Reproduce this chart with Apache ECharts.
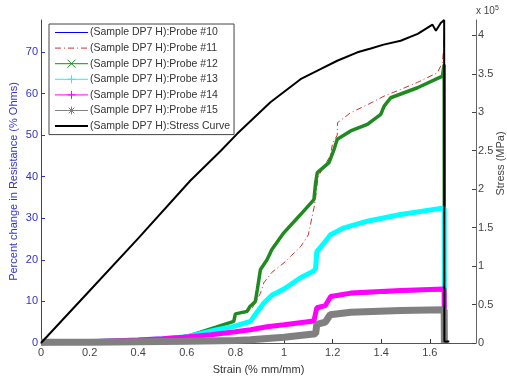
<!DOCTYPE html>
<html>
<head>
<meta charset="utf-8">
<script src="https://cdn.jsdelivr.net/npm/echarts@6/dist/echarts.min.js"></script>
<style>
  html, body { margin: 0; padding: 0; background: #fff; }
  #main { width: 507px; height: 380px; }
</style>
</head>
<body>
<div id="main"></div>
<script>
// values; strain in % mm/mm
const p10Strain = [0, 0.2, 0.4, 0.5, 0.587, 0.7, 0.8, 0.862, 0.93, 1.0, 1.123, 1.13, 1.135, 1.17, 1.18, 1.192, 1.274, 1.48, 1.659, 1.66];
const p10Value  = [0, 0.2, 0.5, 0.8, 1.2, 1.8, 2.5, 3.0, 3.7, 4.2, 5.0, 5.3, 8.0, 8.6, 9.6, 10.8, 11.6, 12.2, 12.6, 0];

const p11Strain = [0, 0.2, 0.4, 0.5, 0.6, 0.656, 0.72, 0.793, 0.8, 0.848, 0.87, 0.89, 0.903, 0.917, 0.95, 1.0, 1.03, 1.07, 1.1, 1.116, 1.125, 1.13, 1.14, 1.17, 1.19, 1.2, 1.219, 1.22, 1.274, 1.343, 1.412, 1.48, 1.549, 1.631, 1.652, 1.657, 1.659, 1.66];
const p11Value  = [0, 0.3, 0.7, 1.0, 1.6, 2.6, 3.8, 5.2, 6.8, 7.4, 8.5, 10.5, 12, 14.5, 17, 19.3, 21, 23.3, 26, 30.5, 33, 35, 40, 43, 45, 48, 50, 53, 55.4, 57.3, 59.4, 61, 62.7, 65, 67.5, 71, 73.9, 0];

const p12Strain = [0, 0.2, 0.4, 0.5, 0.6, 0.656, 0.72, 0.793, 0.8, 0.848, 0.86, 0.882, 0.89, 0.903, 0.93, 0.95, 0.999, 1.068, 1.123, 1.13, 1.137, 1.185, 1.206, 1.219, 1.274, 1.343, 1.398, 1.412, 1.439, 1.549, 1.652, 1.659, 1.66];
const p12Value  = [0, 0.3, 0.7, 1.0, 1.6, 2.6, 3.8, 5.2, 7.0, 7.6, 8.8, 10, 12.8, 17.7, 20, 22.5, 26.5, 30.9, 34.5, 38.5, 41, 43.4, 46.6, 49, 51, 52.6, 55, 57, 59, 61.4, 64.2, 67, 0];

const p13Strain = [0, 0.2, 0.4, 0.5, 0.6, 0.724, 0.793, 0.862, 0.89, 0.917, 0.95, 1.0, 1.068, 1.123, 1.13, 1.135, 1.15, 1.178, 1.19, 1.247, 1.343, 1.48, 1.659, 1.66];
const p13Value  = [0, 0.3, 0.7, 1.0, 1.5, 3.2, 4.0, 5.2, 7.5, 9.6, 11.5, 13, 15.7, 17.3, 18, 22, 23, 25, 26, 27.7, 29.3, 30.9, 32.5, 0];

const p14Strain = [0, 0.2, 0.4, 0.5, 0.587, 0.7, 0.8, 0.862, 0.93, 1.0, 1.123, 1.13, 1.135, 1.17, 1.18, 1.192, 1.274, 1.48, 1.659, 1.66];
const p14Value  = [0, 0.3, 0.7, 1.0, 1.4, 2.0, 2.7, 3.2, 3.9, 4.4, 5.3, 5.6, 8.5, 9.0, 10, 11.2, 12, 12.6, 13, 0];

const p15Strain = [0, 0.2, 0.4, 0.6, 0.8, 0.862, 1.0, 1.13, 1.135, 1.17, 1.19, 1.274, 1.48, 1.659, 1.66];
const p15Value  = [0.2, 0.2, 0.3, 0.4, 0.6, 0.8, 1.4, 2.2, 4.5, 5.0, 6.8, 7.4, 7.8, 8.0, 0];

// stress in units of 10^5
const stressStrain = [0, 0.2, 0.4, 0.614, 0.74, 0.807, 0.944, 1.068, 1.15, 1.219, 1.302, 1.357, 1.41, 1.48, 1.55, 1.611, 1.625, 1.645, 1.659, 1.66, 1.665, 1.68];
const stressE5     = [0, 0.68, 1.36, 2.11, 2.5, 2.72, 3.13, 3.43, 3.56, 3.67, 3.78, 3.83, 3.88, 3.93, 4.02, 4.14, 4.06, 4.16, 4.2, 0.02, 0.04, 0.02];

const seriesNames = [
    '(Sample DP7 H):Probe #10',
    '(Sample DP7 H):Probe #11',
    '(Sample DP7 H):Probe #12',
    '(Sample DP7 H):Probe #13',
    '(Sample DP7 H):Probe #14',
    '(Sample DP7 H):Probe #15',
    '(Sample DP7 H):Stress Curve'
];
const xTicks = [0, 0.2, 0.4, 0.6, 0.8, 1, 1.2, 1.4, 1.6];
const noMarker = [true, true, false, false, false, false, true];

const font = 'Liberation Sans, Arial, sans-serif';
const pairs = (xs, ys) => xs.map((x, i) => [x, ys[i]]);

const xMark = 'path://M0,0L10,10M10,0L0,10';
const plusMark = 'path://M5,0L5,10M0,5L10,5';
const starMark = 'path://M5,0L5,10M0,5L10,5M1.5,1.5L8.5,8.5M8.5,1.5L1.5,8.5';

let probe = (name, xs, ys, color, width, mark, dash) => ({
    name: name,
    type: 'line',
    yAxisIndex: 0,
    data: pairs(xs, ys),
    symbol: mark || 'none',
    symbolSize: 7,
    showSymbol: false,
    animation: false,
    lineStyle: {color: color, width: width, type: dash || 'solid'},
    itemStyle: {color: color, borderColor: color, borderWidth: 1}
});

let chart = echarts.init(document.getElementById('main'), null, {renderer: 'canvas'});
chart.setOption({
    animation: false,
    textStyle: {fontFamily: font},
    grid: {left: 41, right: 31, top: 20, bottom: 37, outerBoundsMode: 'none'},
    legend: {
        orient: 'vertical',
        left: 49,
        top: 24,
        itemWidth: 33,
        itemHeight: 10,
        itemGap: 4.6,
        padding: [3, 4, 3, 5],
        borderColor: '#444',
        borderWidth: 1,
        backgroundColor: '#fff',
        textStyle: {fontSize: 10.5, color: '#333', fontFamily: font, padding: [0, 0, 0, -3]},
        data: seriesNames.map((n, i) => ({
            name: n,
            lineStyle: {width: i === 6 ? 2 : 1},
            itemStyle: noMarker[i] ? {opacity: 0} : {borderWidth: 1}
        }))
    },
    xAxis: {
        type: 'value',
        min: 0,
        max: 1.79,
        interval: 0.2,
        name: 'Strain (% mm/mm)',
        nameLocation: 'middle',
        nameGap: 21,
        nameMoveOverlap: false,
        nameTextStyle: {fontSize: 11, color: '#333'},
        splitLine: {show: false},
        axisLine: {lineStyle: {color: '#555'}},
        axisTick: {inside: true, length: 4, lineStyle: {color: '#333'}},
        axisLabel: {
            fontSize: 11, color: '#444', margin: 4, showMaxLabel: false,
            formatter: v => xTicks.indexOf(Math.round(v * 10) / 10) >= 0 ? String(Math.round(v * 10) / 10) : ''
        }
    },
    yAxis: [
        {
            type: 'value',
            min: 0,
            max: 77.7,
            interval: 10,
            position: 'left',
            name: 'Percent change in Resistance (% Ohms)',
            nameLocation: 'middle',
            nameGap: 22,
            nameMoveOverlap: false,
            nameTextStyle: {fontSize: 11, color: '#3333cc'},
            splitLine: {show: false},
            axisLine: {show: true, lineStyle: {color: '#3333cc'}},
            axisTick: {inside: true, length: 4, lineStyle: {color: '#3333cc'}},
            axisLabel: {fontSize: 11, color: '#3333bb', margin: 3, showMaxLabel: false}
        },
        {
            type: 'value',
            min: 0,
            max: 4.2,
            interval: 0.5,
            position: 'right',
            name: 'Stress (MPa)',
            nameLocation: 'middle',
            nameRotate: 90,
            nameGap: 19,
            nameMoveOverlap: false,
            nameTextStyle: {fontSize: 11, color: '#444', padding: [0, 0, 0, 36]},
            splitLine: {show: false},
            axisLine: {show: true, lineStyle: {color: '#666'}},
            axisTick: {inside: true, length: 4, lineStyle: {color: '#444'}},
            axisLabel: {fontSize: 11, color: '#444', margin: 2, showMaxLabel: false}
        }
    ],
    graphic: [{
        type: 'text',
        left: 476,
        top: 5,
        style: {
            text: 'x 10{sup|5}',
            fontSize: 10,
            fill: '#444',
            fontFamily: font,
            rich: {sup: {fontSize: 7, verticalAlign: 'top', padding: [0, 0, 6, 0], fill: '#444'}}
        }
    }],
    series: [
        probe(seriesNames[0], p10Strain, p10Value, '#0000ff', 1),
        probe(seriesNames[1], p11Strain, p11Value, '#cc3333', 1, null, [6, 3, 1, 3]),
        probe(seriesNames[2], p12Strain, p12Value, '#1f8a1f', 3.5, xMark),
        probe(seriesNames[3], p13Strain, p13Value, '#00ffff', 5, plusMark),
        probe(seriesNames[4], p14Strain, p14Value, '#ff00ff', 5, plusMark),
        probe(seriesNames[5], p15Strain, p15Value, '#808080', 7, starMark),
        {
            name: seriesNames[6],
            type: 'line',
            yAxisIndex: 1,
            data: pairs(stressStrain, stressE5),
            symbol: 'none',
            lineStyle: {color: '#000', width: 2},
            itemStyle: {color: '#000'}
        }
    ]
});
</script>
</body>
</html>
